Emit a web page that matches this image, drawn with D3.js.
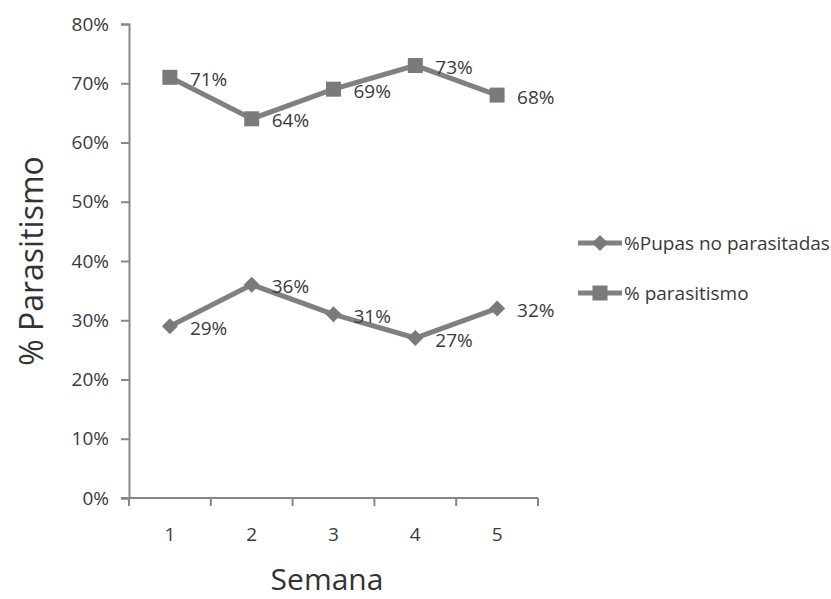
<!DOCTYPE html>
<html>
<head>
<meta charset="utf-8">
<script src="https://cdn.jsdelivr.net/npm/d3@7"></script>
<style>
  html, body { margin: 0; padding: 0; background: #fff; }
  svg { display: block; font-family: "Open Sans", "Noto Sans", sans-serif; }
</style>
</head>
<body>
<svg id="chart" width="831" height="599"></svg>
<script>
// Weekly share of parasitised / non-parasitised pupae
const semanas = ["1", "2", "3", "4", "5"];
const pupasNoParasitadas = [29, 36, 31, 27, 32];
const parasitismo = [71, 64, 69, 73, 68];
const yTicks = [0, 10, 20, 30, 40, 50, 60, 70, 80];
const seriesNames = ["%Pupas no parasitadas", "% parasitismo"];

const svg = d3.select("#chart");
const margin = { left: 129, right: 293, top: 24, bottom: 101 };
const W = 831, H = 599;

const x = d3.scaleBand().domain(semanas).range([margin.left, W - margin.right]);
const y = d3.scaleLinear().domain([0, 80]).range([H - margin.bottom, margin.top]);

const axisColor = "#868686";
const textColor = "#3a3a3a";
const lineColor = "#808080";
const markColor = "#7a7a7a";
const fs = 19;

// Y axis
const yAxis = svg.append("g")
  .attr("transform", `translate(${margin.left},0)`)
  .call(d3.axisLeft(y).tickValues(yTicks).tickFormat(d => d + "%").tickSize(8).tickSizeOuter(8).tickPadding(12));
yAxis.select(".domain").attr("stroke", axisColor).attr("stroke-width", 2);
yAxis.selectAll(".tick line").attr("stroke", axisColor).attr("stroke-width", 2);
yAxis.selectAll(".tick text").attr("fill", textColor).attr("font-size", fs).attr("font-family", "Open Sans");

// X axis with ticks at band edges
const xAxisG = svg.append("g").attr("transform", `translate(0,${y(0)})`);
xAxisG.append("line")
  .attr("x1", margin.left - 8).attr("x2", W - margin.right)
  .attr("y1", 0).attr("y2", 0)
  .attr("stroke", axisColor).attr("stroke-width", 2);
const edges = semanas.map(s => x(s)).concat([x(semanas[semanas.length - 1]) + x.bandwidth()]);
xAxisG.selectAll(".xt").data(edges).enter().append("line")
  .attr("x1", d => d).attr("x2", d => d).attr("y1", 0).attr("y2", 8)
  .attr("stroke", axisColor).attr("stroke-width", 2);
xAxisG.selectAll(".xl").data(semanas).enter().append("text")
  .attr("x", d => x(d) + x.bandwidth() / 2).attr("y", 43)
  .attr("text-anchor", "middle").attr("fill", textColor).attr("font-size", fs)
  .text(d => d);

// Axis titles
svg.append("text")
  .attr("x", 327).attr("y", 590)
  .attr("text-anchor", "middle").attr("fill", "#333").attr("font-size", 30)
  .text("Semana");
svg.append("text")
  .attr("transform", `translate(43,${261}) rotate(-90)`)
  .attr("text-anchor", "middle").attr("fill", "#333").attr("font-size", 32)
  .text("% Parasitismo");

const cx = s => x(s) + x.bandwidth() / 2;
const line = d3.line().x((d, i) => cx(semanas[i])).y(d => y(d));

// Marker shapes (half-size in px)
const diamondPath = r => `M0,${-r}L${r},0L0,${r}L${-r},0Z`;
const squarePath = r => `M${-r},${-r}H${r}V${r}H${-r}Z`;
const diamond = () => diamondPath(8);
const square = () => squarePath(7.5);

function drawSeries(values, symbolGen) {
  const g = svg.append("g");
  g.append("path").datum(values)
    .attr("d", line).attr("fill", "none")
    .attr("stroke", lineColor).attr("stroke-width", 5).attr("stroke-linejoin", "round");
  g.selectAll("path.m").data(values).enter().append("path")
    .attr("class", "m")
    .attr("transform", (d, i) => `translate(${cx(semanas[i])},${y(d)})`)
    .attr("d", symbolGen).attr("fill", markColor);
  g.selectAll("text").data(values).enter().append("text")
    .attr("x", (d, i) => cx(semanas[i]) + 20)
    .attr("y", d => y(d) + 2)
    .attr("dy", "0.35em")
    .attr("fill", textColor).attr("font-size", fs)
    .text(d => d + "%");
}
drawSeries(pupasNoParasitadas, diamond);
drawSeries(parasitismo, square);

// Legend
const legend = svg.append("g");
const legendSymbols = [diamond, square];
seriesNames.forEach((name, i) => {
  const ly = 243 + i * 50;
  legend.append("line").attr("x1", 578).attr("x2", 622).attr("y1", ly).attr("y2", ly)
    .attr("stroke", lineColor).attr("stroke-width", 5);
  legend.append("path").attr("transform", `translate(600,${ly})`)
    .attr("d", legendSymbols[i]).attr("fill", markColor);
  legend.append("text").attr("x", 624).attr("y", ly).attr("dy", "0.35em")
    .attr("fill", textColor).attr("font-size", fs).text(name);
});
</script>
</body>
</html>
